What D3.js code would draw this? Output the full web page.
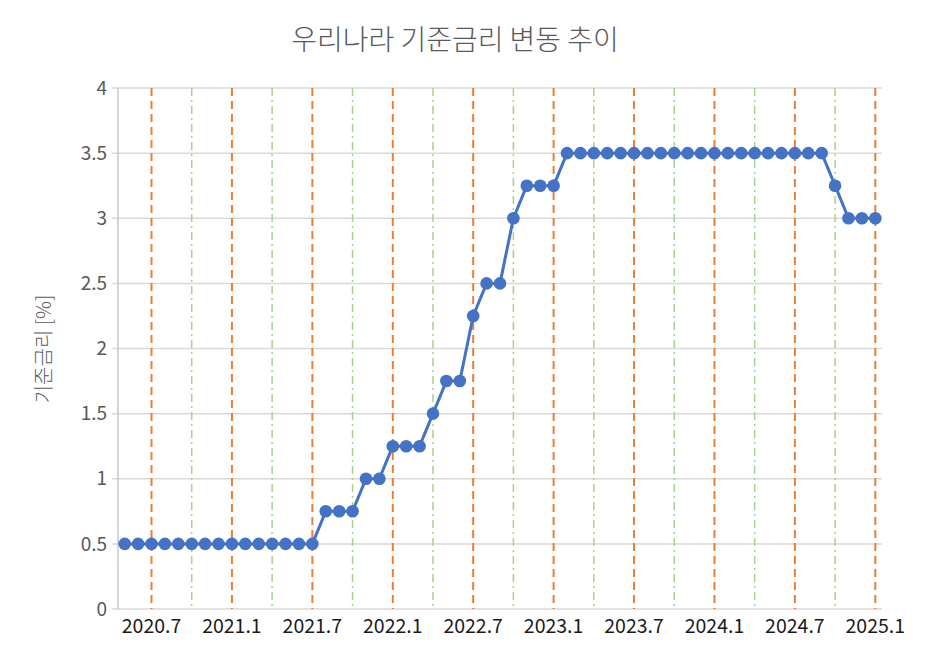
<!DOCTYPE html>
<html><head><meta charset="utf-8">
<script src="https://cdn.jsdelivr.net/npm/d3@7"></script>
<style>body{margin:0;background:#fff;}svg{display:block;font-family:"Malgun Gothic","Noto Sans CJK KR","Noto Sans",sans-serif;}</style>
</head><body>
<svg id="c" width="925" height="649"></svg>
<script>
const months = [
"2020.5","2020.6","2020.7","2020.8","2020.9","2020.10","2020.11","2020.12",
"2021.1","2021.2","2021.3","2021.4","2021.5","2021.6","2021.7","2021.8","2021.9","2021.10","2021.11","2021.12",
"2022.1","2022.2","2022.3","2022.4","2022.5","2022.6","2022.7","2022.8","2022.9","2022.10","2022.11","2022.12",
"2023.1","2023.2","2023.3","2023.4","2023.5","2023.6","2023.7","2023.8","2023.9","2023.10","2023.11","2023.12",
"2024.1","2024.2","2024.3","2024.4","2024.5","2024.6","2024.7","2024.8","2024.9","2024.10","2024.11","2024.12",
"2025.1"];
const rates = [
0.5,0.5,0.5,0.5,0.5,0.5,0.5,0.5,
0.5,0.5,0.5,0.5,0.5,0.5,0.5,0.75,0.75,0.75,1.0,1.0,
1.25,1.25,1.25,1.5,1.75,1.75,2.25,2.5,2.5,3.0,3.25,3.25,
3.25,3.5,3.5,3.5,3.5,3.5,3.5,3.5,3.5,3.5,3.5,3.5,
3.5,3.5,3.5,3.5,3.5,3.5,3.5,3.5,3.5,3.25,3.0,3.0,
3.0];
const labelMonths = ["2020.7","2021.1","2021.7","2022.1","2022.7","2023.1","2023.7","2024.1","2024.7","2025.1"];
const quarterMonths = ["2020.10","2021.4","2021.10","2022.4","2022.10","2023.4","2023.10","2024.4","2024.10"];
const yTicks = [0,0.5,1,1.5,2,2.5,3,3.5,4];
const title = "우리나라 기준금리 변동 추이";
const yTitle = "기준금리 [%]";

const svg = d3.select("#c");
const L = 118, R = 882, T = 88, B = 609;
const x = d3.scaleBand().domain(months).range([L, R]);
const xc = m => x(m) + x.bandwidth()/2;
const y = d3.scaleLinear().domain([0,4]).range([B, T]);

// gridlines
svg.append("g").selectAll("line").data(yTicks).join("line")
  .attr("x1", L-6).attr("x2", R).attr("y1", d=>y(d)).attr("y2", d=>y(d))
  .attr("stroke", "#d9d9d9").attr("stroke-width", 1.5);
// left axis line
svg.append("line").attr("x1", L).attr("x2", L).attr("y1", T).attr("y2", B)
  .attr("stroke", "#c8c8c8").attr("stroke-width", 1.5);
// y tick labels
svg.append("g").selectAll("text").data(yTicks).join("text")
  .attr("x", 107).attr("y", d=>y(d)).attr("dy","0.35em").attr("text-anchor","end")
  .attr("fill","#595959").attr("font-size", 19).text(d=>d);

// vertical reference lines
svg.append("g").selectAll("line").data(quarterMonths).join("line")
  .attr("x1", d=>xc(d)).attr("x2", d=>xc(d)).attr("y1", T).attr("y2", B)
  .attr("stroke", "#a9d18e").attr("stroke-width", 1.5).attr("stroke-dasharray","8,4,2,4");
svg.append("g").selectAll("line").data(labelMonths).join("line")
  .attr("x1", d=>xc(d)).attr("x2", d=>xc(d)).attr("y1", T).attr("y2", B)
  .attr("stroke", "#ed7d31").attr("stroke-width", 2).attr("stroke-dasharray","8,5");

// x tick labels
svg.append("g").selectAll("text").data(labelMonths).join("text")
  .attr("x", d=>xc(d)).attr("y", 633).attr("text-anchor","middle")
  .attr("fill","#1a1a1a").attr("font-size", 19.5).text(d=>d);

// series
const line = d3.line().x((d,i)=>xc(months[i])).y(d=>y(d));
svg.append("path").datum(rates).attr("d", line).attr("fill","none")
  .attr("stroke","#4472c4").attr("stroke-width",3).attr("stroke-linejoin","round");
svg.append("g").selectAll("circle").data(rates).join("circle")
  .attr("cx",(d,i)=>xc(months[i])).attr("cy",d=>y(d)).attr("r",6.3)
  .attr("fill","#4472c4");

// titles
svg.append("text").attr("x", 455).attr("y", 50).attr("text-anchor","middle")
  .attr("fill","#595959").attr("font-size", 28).attr("font-weight", 300).text(title);
svg.append("text").attr("transform","translate(51,349) rotate(-90)")
  .attr("text-anchor","middle").attr("fill","#595959").attr("font-size",20).attr("font-weight", 300).text(yTitle);
</script>
</body></html>
